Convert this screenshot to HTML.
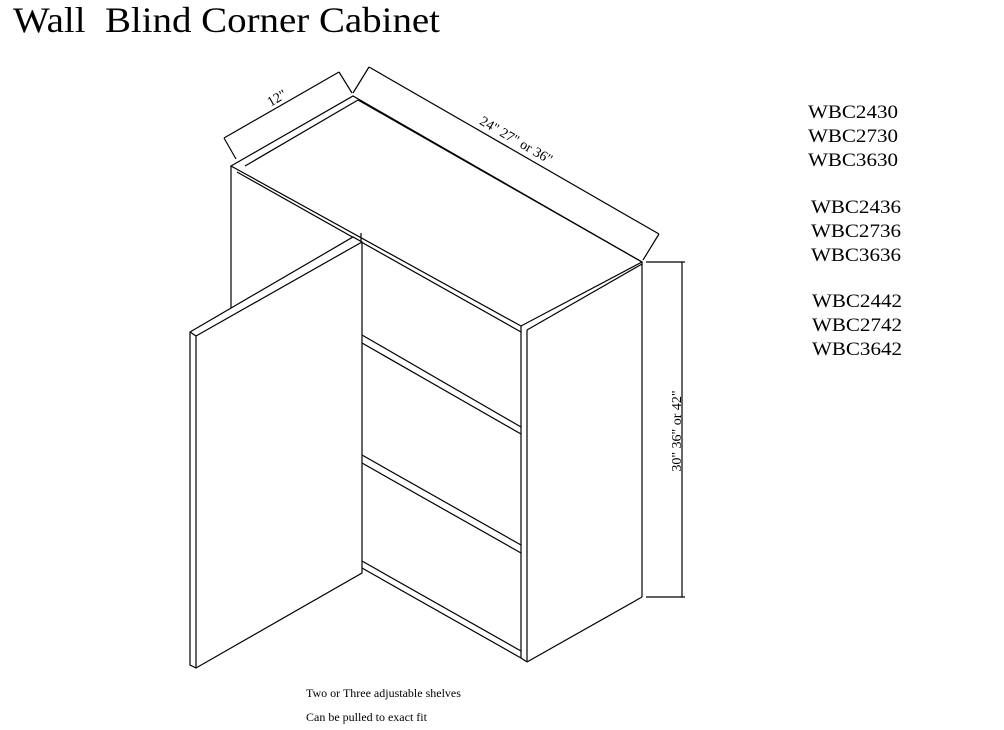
<!DOCTYPE html>
<html><head><meta charset="utf-8"><style>
html,body{margin:0;padding:0;background:#fff;}
svg{display:block;}
text{font-family:"Liberation Serif",serif;fill:#000;}
</style></head><body>
<svg width="1004" height="730" viewBox="0 0 1004 730" xmlns="http://www.w3.org/2000/svg">
<text x="13" y="32" font-size="36" textLength="427" lengthAdjust="spacingAndGlyphs">Wall&#160; Blind Corner Cabinet</text>
<g font-size="19">
<text x="808" y="118" textLength="90" lengthAdjust="spacingAndGlyphs">WBC2430</text>
<text x="808" y="142" textLength="90" lengthAdjust="spacingAndGlyphs">WBC2730</text>
<text x="808" y="166" textLength="90" lengthAdjust="spacingAndGlyphs">WBC3630</text>
<text x="811" y="213" textLength="90" lengthAdjust="spacingAndGlyphs">WBC2436</text>
<text x="811" y="237" textLength="90" lengthAdjust="spacingAndGlyphs">WBC2736</text>
<text x="811" y="261" textLength="90" lengthAdjust="spacingAndGlyphs">WBC3636</text>
<text x="812" y="307" textLength="90" lengthAdjust="spacingAndGlyphs">WBC2442</text>
<text x="812" y="331" textLength="90" lengthAdjust="spacingAndGlyphs">WBC2742</text>
<text x="812" y="355" textLength="90" lengthAdjust="spacingAndGlyphs">WBC3642</text>
</g>
<text x="306" y="697" font-size="12">Two or Three adjustable shelves</text>
<text x="306" y="721" font-size="12">Can be pulled to exact fit</text>

<g fill="none" stroke="#000" stroke-width="1.2">
<line x1="224" y1="138" x2="339" y2="72"/>
<line x1="224" y1="138" x2="236" y2="159"/>
<line x1="339" y1="72" x2="352" y2="93"/>
<line x1="369" y1="67" x2="659" y2="234"/>
<line x1="369" y1="67" x2="353" y2="93"/>
<line x1="659" y1="234" x2="643" y2="260"/>
<line x1="682" y1="262" x2="682" y2="597"/>
<line x1="646" y1="262" x2="685" y2="262"/>
<line x1="646" y1="597" x2="685" y2="597"/>

<polygon points="231,166 353,96 642,262 521,326" fill="#fff"/>
<line x1="245" y1="166" x2="358" y2="100"/>
<line x1="358" y1="100" x2="642" y2="262"/>
<line x1="237" y1="172" x2="521" y2="332"/>
<line x1="527" y1="330" x2="642" y2="264"/>
<line x1="231" y1="166" x2="231" y2="310"/>
<line x1="642" y1="262" x2="642" y2="597"/>
<line x1="521" y1="326" x2="521" y2="658"/>
<line x1="527" y1="330" x2="527" y2="662"/>
<line x1="527" y1="662" x2="642" y2="597"/>
<line x1="521" y1="658" x2="527" y2="662"/>
<line x1="361" y1="233" x2="361" y2="574"/>
<line x1="362" y1="335" x2="521" y2="427"/>
<line x1="362" y1="343" x2="521" y2="434"/>
<line x1="362" y1="455" x2="521" y2="545"/>
<line x1="362" y1="463" x2="521" y2="553"/>
<line x1="362" y1="561" x2="521" y2="651"/>
<line x1="362" y1="568" x2="521" y2="658"/>
<polygon points="190,332 353,237 362,242 362,573 196,668 190,665" fill="#fff"/>
<line x1="196" y1="336" x2="362" y2="242"/>
<line x1="190" y1="332" x2="196" y2="336"/>
<line x1="196" y1="336" x2="196" y2="668"/>
</g>
<text transform="translate(681,431) rotate(-90)" font-size="14" text-anchor="middle">30" 36" or 42"</text>
<text transform="translate(279,102) rotate(-30)" font-size="14" text-anchor="middle">12"</text>
<text transform="translate(514,144) rotate(30)" font-size="14" text-anchor="middle">24" 27" or 36"</text>
</svg>
</body></html>
